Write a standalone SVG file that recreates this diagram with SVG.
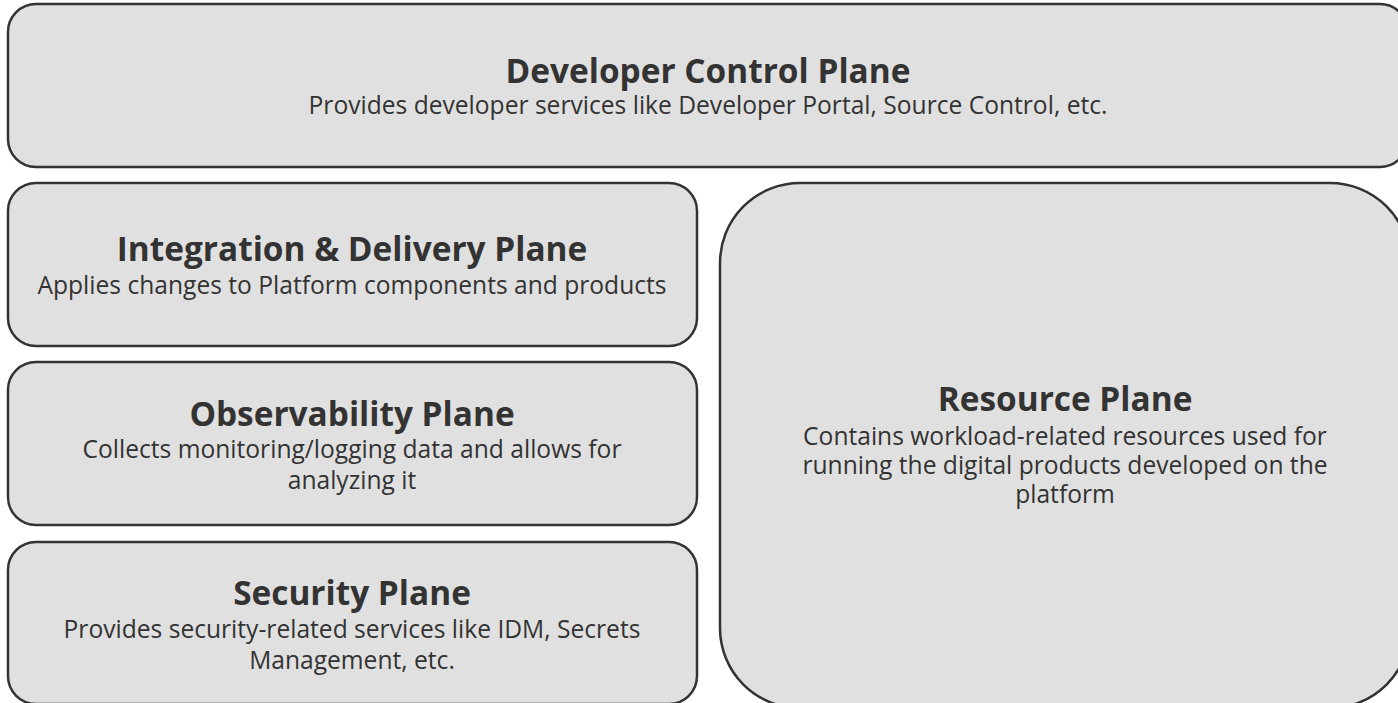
<svg xmlns="http://www.w3.org/2000/svg" width="1398" height="703" viewBox="0 0 1398 703">
<style>
.box{fill:#e0e0e0;stroke:#333;stroke-width:2.5}
.t{font-family:"Open Sans","Noto Sans",sans-serif;font-weight:700;font-size:33.4px;fill:#333;text-anchor:middle}
.d{font-family:"Open Sans","Noto Sans",sans-serif;font-size:24.6px;fill:#333;text-anchor:middle}
</style>
<rect width="1398" height="703" fill="#fff"/>
<g id="developer-control-plane">
<rect class="box" x="8" y="4" width="1400" height="163" rx="28"/>
<text class="t" x="708" y="83">Developer Control Plane</text>
<text class="d" x="708" y="114">Provides developer services like Developer Portal, Source Control, etc.</text>
</g>
<g id="integration-delivery-plane">
<rect class="box" x="8" y="183" width="689" height="163" rx="28"/>
<text class="t" x="352" y="261">Integration &amp; Delivery Plane</text>
<text class="d" x="352" y="294">Applies changes to Platform components and products</text>
</g>
<g id="observability-plane">
<rect class="box" x="8" y="362" width="689" height="163" rx="28"/>
<text class="t" x="352" y="426">Observability Plane</text>
<text class="d" x="352" y="458">Collects monitoring/logging data and allows for</text>
<text class="d" x="352" y="489">analyzing it</text>
</g>
<g id="security-plane">
<rect class="box" x="8" y="542" width="689" height="162" rx="28"/>
<text class="t" x="352" y="605">Security Plane</text>
<text class="d" x="352" y="638">Provides security-related services like IDM, Secrets</text>
<text class="d" x="352" y="669">Management, etc.</text>
</g>
<g id="resource-plane">
<rect class="box" x="720" y="183" width="690" height="525" rx="80"/>
<text class="t" x="1065" y="411">Resource Plane</text>
<text class="d" x="1065" y="445">Contains workload-related resources used for</text>
<text class="d" x="1065" y="474">running the digital products developed on the</text>
<text class="d" x="1065" y="503">platform</text>
</g>
<g id="connectors"/>
</svg>
